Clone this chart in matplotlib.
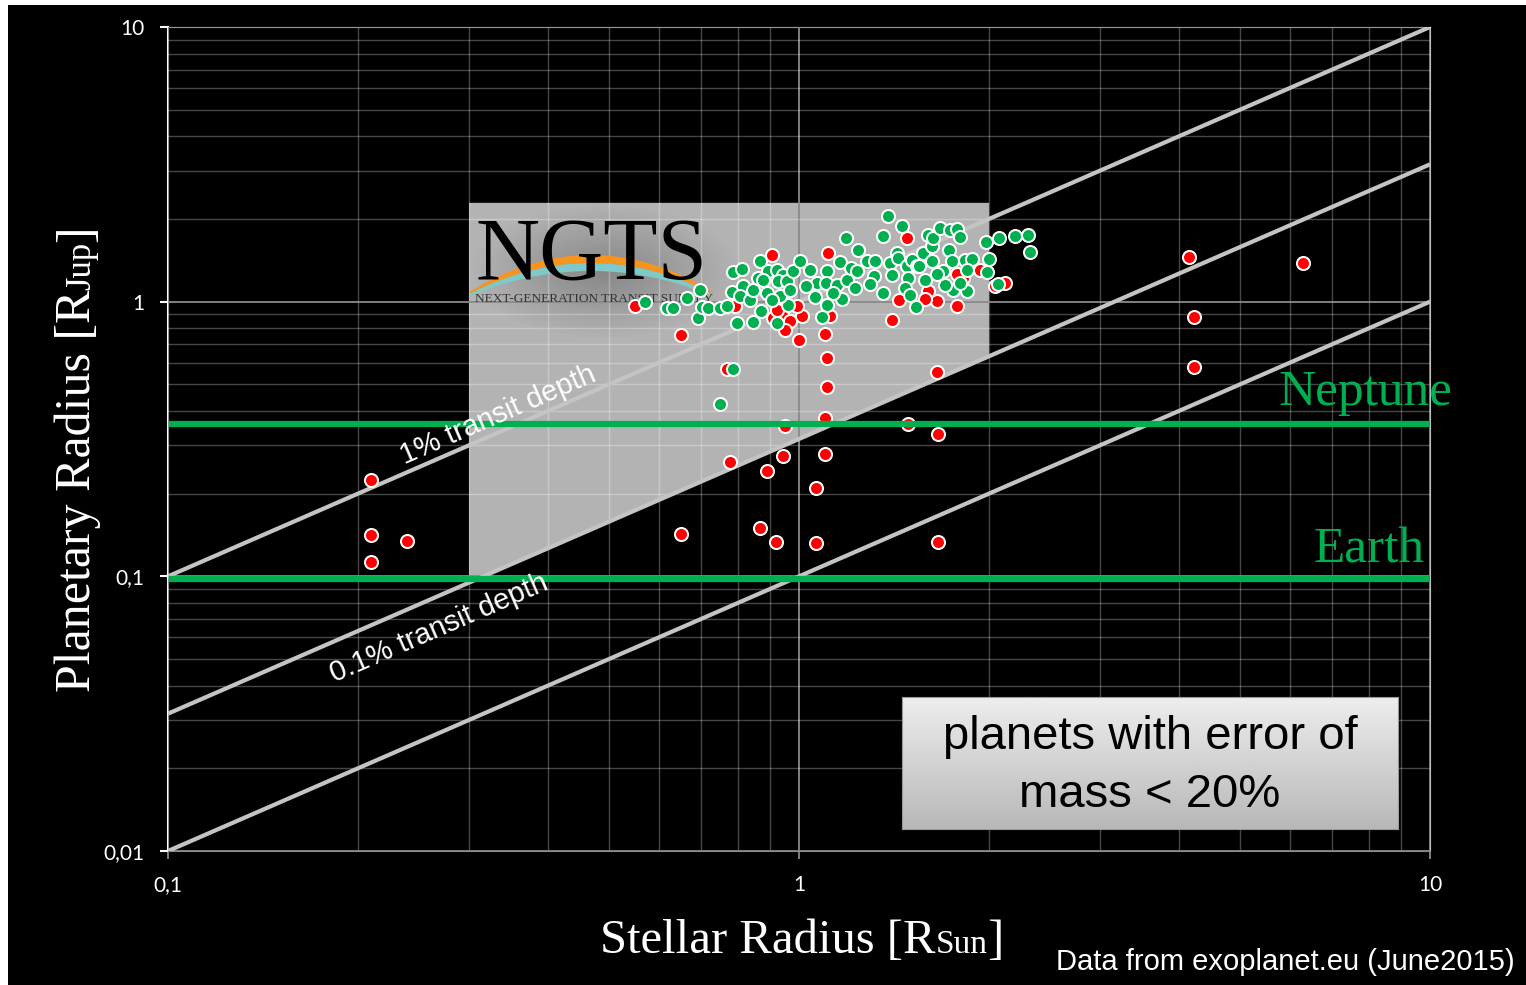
import numpy as np
import matplotlib
matplotlib.use("Agg")
import matplotlib.pyplot as plt
from matplotlib.patches import Polygon, Rectangle
from matplotlib.ticker import NullFormatter

W, H = 1526, 985

# exoplanet.eu (June 2015): stellar radius [R_sun] vs planetary radius [R_jup]
# planets with mass error < 20 %
good_rs = [0.570, 0.617, 0.632, 0.664, 0.697, 0.692, 0.701, 0.718, 0.750, 0.768,
           0.797, 0.846, 0.871, 0.922, 0.962, 0.787, 0.811, 0.782, 0.816, 0.806,
           0.836, 0.846, 0.868, 0.894, 0.922, 0.944, 0.862, 0.878, 0.927, 0.956,
           0.889, 0.933, 0.905, 0.977, 1.004, 1.041, 1.067, 1.106, 1.104, 1.060,
           1.106, 1.086, 1.170, 1.150, 1.190, 1.227, 1.161, 1.207, 1.234, 1.189,
           1.240, 1.316, 1.280, 1.319, 1.360, 1.360, 1.385, 1.457, 1.394, 1.428,
           1.437, 1.482, 1.509, 1.537, 1.403, 1.490, 1.472, 1.500, 1.532, 1.584,
           1.551, 1.574, 1.623, 1.603, 1.633, 1.673, 1.735, 1.777, 1.800, 1.623,
           1.693, 1.730, 1.746, 1.756, 1.848, 1.833, 1.878, 1.844, 1.984, 2.000,
           1.979, 2.077, 2.199, 2.309, 2.323, 2.069, 0.787, 0.750,
           0.968, 1.026, 1.132, 1.296, 1.654, 1.703, 1.800]
good_rp = [1.000, 0.951, 0.951, 1.034, 1.106, 0.871, 0.959, 0.949, 0.947, 0.961,
           0.835, 0.842, 0.922, 0.835, 0.975, 1.286, 1.313, 1.087, 1.139, 1.045,
           1.017, 1.106, 1.402, 1.289, 1.307, 1.254, 1.220, 1.202, 1.186, 1.186,
           1.076, 1.045, 1.017, 1.289, 1.402, 1.304, 1.170, 1.289, 1.170, 1.043,
           0.975, 0.882, 1.024, 1.153, 1.202, 1.120, 1.393, 1.326, 1.289, 1.703,
           1.546, 1.243, 1.402, 1.402, 1.078, 1.729, 2.051, 1.880, 1.383, 1.504,
           1.442, 1.344, 1.422, 1.344, 1.254, 1.220, 1.122, 1.060, 0.959, 1.202,
           1.344, 1.504, 1.590, 1.754, 1.705, 1.855, 1.829, 1.844, 1.714, 1.402,
           1.297, 1.537, 1.410, 1.106, 1.090, 1.422, 1.430, 1.307, 1.279, 1.430,
           1.644, 1.705, 1.739, 1.754, 1.511, 1.160, 0.568, 0.424,
           1.106, 1.144, 1.078, 1.163, 1.265, 1.153, 1.173]

# everything else
other_rs = [0.210, 0.210, 0.210, 0.239, 0.650, 0.651, 0.550, 1.000, 1.099, 1.106,
            0.768, 1.107, 1.654, 1.099, 0.949, 1.487, 1.659, 0.777, 0.889, 0.943,
            1.098, 1.064, 0.868, 0.919, 1.064, 1.659, 4.15, 6.29, 4.23, 4.23,
            0.905, 1.110, 1.402, 1.482, 1.438, 1.603, 1.653, 1.777, 1.821, 1.936,
            2.121, 0.792, 0.911, 0.939, 0.968, 0.950, 1.010, 0.992, 1.120, 0.922,
            1.777, 2.045, 1.584]
other_rp = [0.225, 0.141, 0.1125, 0.134, 0.143, 0.755, 0.961, 0.727, 0.765, 0.625,
            0.570, 0.489, 0.553, 0.377, 0.352, 0.359, 0.330, 0.261, 0.2425, 0.2734,
            0.280, 0.210, 0.1495, 0.133, 0.132, 0.133, 1.458, 1.387, 0.882, 0.580,
            1.483, 1.504, 0.855, 1.705, 1.017, 1.090, 1.007, 0.961, 1.216, 1.307,
            1.173, 0.967, 0.872, 0.897, 0.848, 0.791, 0.884, 0.961, 0.884, 0.935,
            1.265, 1.137, 1.023]

neptune_rp = 0.36
earth_rp = 0.098
depths = [0.01, 0.001, 0.0001]
depth_texts = ["1% transit depth", "0.1% transit depth"]
depth_text_pos = [(0.237, 0.256), (0.184, 0.0412)]

# NGTS sensitivity region
ngts_rs = [0.3, 2.0]
ngts_rp_top = 2.29
ngts_depth = 0.001

GREEN = "#00b050"
RED = "#ff0000"
SERIF = "Liberation Serif"
SANS = "Liberation Sans"


def ratio(depth):
    # R_jup ~ 0.1 R_sun
    return np.sqrt(depth) / 0.1


def fpx(x, y):
    return x / W, 1 - y / H


fig = plt.figure(figsize=(W / 100, H / 100), dpi=100)
fig.patch.set_facecolor("white")
fig.add_artist(Rectangle((8 / W, 0), 1, 1 - 5 / H, transform=fig.transFigure,
                         facecolor="black", edgecolor="none", zorder=-10))

ax = fig.add_axes([168 / W, 1 - 851 / H, (1430 - 168) / W, (851 - 27) / H])
ax.set_facecolor("black")
ax.set_xscale("log")
ax.set_yscale("log")
ax.set_xlim(0.1, 10)
ax.set_ylim(0.01, 10)

# grey box for the NGTS window
k = ratio(ngts_depth)
box = [(ngts_rs[0], ngts_rp_top), (ngts_rs[1], ngts_rp_top),
       (ngts_rs[1], k * ngts_rs[1]), (ngts_rs[0], k * ngts_rs[0])]
ax.add_patch(Polygon(box, closed=True, facecolor="#b3b3b3", edgecolor="none", zorder=1))

# darker shading behind the logo
gx, gy = np.meshgrid(np.linspace(-1, 1, 120), np.linspace(-1, 1, 80))
shade = np.zeros((80, 120, 4))
shade[..., 3] = 0.25 * np.clip(1 - np.sqrt(gx ** 2 + gy ** 2), 0, 1)
x0, y0 = fpx(468, 340)
x1, y1 = fpx(740, 203)
ax.imshow(shade, extent=[x0, x1, y0, y1], transform=fig.transFigure,
          aspect="auto", interpolation="bilinear", zorder=1.2)
ax.set_xlim(0.1, 10)
ax.set_ylim(0.01, 10)

# grid
ax.set_axisbelow(False)
ax.grid(True, which="minor", color="white", alpha=0.28, lw=1.0)
ax.grid(True, which="major", color="#8a8a8a", lw=1.3)

# lines of constant transit depth
xs = np.array([0.1, 10])
for d in depths:
    ax.plot(xs, ratio(d) * xs, color="#c4c4c4", lw=3, zorder=3, solid_capstyle="butt")

p1 = ax.transData.transform((0.1, 0.1))
p2 = ax.transData.transform((10, 10))
angle = np.degrees(np.arctan2(p2[1] - p1[1], p2[0] - p1[0]))
for txt, pos in zip(depth_texts, depth_text_pos):
    ax.text(pos[0], pos[1], txt, rotation=angle, rotation_mode="anchor",
            ha="left", va="baseline", fontsize=21, family=SANS, color="white", zorder=5)

# planets
ax.scatter(other_rs, other_rp, s=88, c=RED, edgecolors="white", linewidths=1.45, zorder=3.2)
ax.scatter(good_rs, good_rp, s=88, c=GREEN, edgecolors="white", linewidths=1.45, zorder=3.3)

# Neptune / Earth radii
for rp, name, off, xr in [(neptune_rp, "Neptune", 13, 1.0174), (earth_rp, "Earth", 11.5, 0.996)]:
    ax.axhline(rp, 0.003, 0.998, color=GREEN, lw=4.5, zorder=3.6)
    ax.annotate(name, xy=(xr, rp), xycoords=("axes fraction", "data"),
                xytext=(0, off), textcoords="offset points", ha="right", va="baseline",
                fontsize=37, family=SERIF, color=GREEN, annotation_clip=False, zorder=5)

# NGTS logo
lx = np.linspace(470, 712, 80)
top_o = 255 + 0.0025 * (lx - 591) ** 2
mid = 263 + 0.0021 * (lx - 591) ** 2
bot_t = 271 + 0.0017 * (lx - 591) ** 2
for upper, lower, col in [(top_o, mid, "#f7941d"), (mid, bot_t, "#7fc9c9")]:
    pts = [fpx(a, b) for a, b in zip(lx, upper)] + [fpx(a, b) for a, b in zip(lx[::-1], lower[::-1])]
    ax.add_patch(Polygon(pts, closed=True, facecolor=col, edgecolor="none",
                         transform=fig.transFigure, zorder=3.1))
ax.text(*fpx(475, 279), "NGTS", transform=fig.transFigure, fontsize=64, family=SERIF,
        color="black", ha="left", va="baseline", zorder=3.15)
ax.text(*fpx(475, 302), "NEXT-GENERATION TRANSIT SURVEY", transform=fig.transFigure,
        fontsize=9.6, family=SERIF, color="#333333", ha="left", va="baseline", zorder=3.15)

# ticks
ax.set_xticks([0.1, 1, 10])
ax.set_xticklabels(["0,1", "1", "10"])
ax.set_yticks([0.01, 0.1, 1, 10])
ax.set_yticklabels(["0,01", "0,1", "1", "10"])
ax.xaxis.set_minor_formatter(NullFormatter())
ax.yaxis.set_minor_formatter(NullFormatter())
ax.tick_params(which="minor", length=0)
ax.tick_params(axis="y", which="major", direction="out", length=6, width=1.5,
               color="white", labelcolor="white", labelsize=15, pad=11)
ax.tick_params(axis="x", which="major", direction="out", length=6, width=1.3,
               color="#8a8a8a", labelcolor="white", labelsize=15, pad=11)
for t in ax.get_xticklabels() + ax.get_yticklabels():
    t.set_fontfamily("Lato")

ax.spines["left"].set_color("white")
ax.spines["left"].set_linewidth(1.5)
ax.spines["top"].set_color("white")
ax.spines["right"].set_color("#bdbdbd")
ax.spines["bottom"].set_color("#8a8a8a")

# axis titles with smaller unit text
renderer = fig.canvas.get_renderer()


def title_parts(parts, x, y, rotation):
    for text, size in parts:
        t = fig.text(x, y, text, fontsize=size, family=SERIF, color="white",
                     rotation=rotation, rotation_mode="anchor", ha="left", va="baseline")
        bb = t.get_window_extent(renderer)
        if rotation == 0:
            x = bb.x1 / W
        else:
            y = bb.y1 / H


title_parts([("Stellar Radius [R", 35), ("Sun", 24), ("]", 35)], *fpx(600, 953), 0)
title_parts([("Planetary Radius [R", 36), ("Jup", 25), ("]", 36)], *fpx(90, 692), 90)

# note box
bax = fig.add_axes([902 / W, 1 - 829 / H, 496 / W, 132 / H])
grad = np.linspace(0.93, 0.72, 100)[:, None]
bax.imshow(grad, cmap="gray", vmin=0, vmax=1, aspect="auto", extent=[0, 1, 0, 1])
bax.set_xticks([])
bax.set_yticks([])
for s in bax.spines.values():
    s.set_color("#9a9a9a")
bax.text(0.5, 0.70, "planets with error of", ha="center", va="center",
         fontsize=34, family=SANS, color="black")
bax.text(0.5, 0.26, "mass < 20%", ha="center", va="center",
         fontsize=34, family=SANS, color="black")

fig.text(*fpx(1515, 970), "Data from exoplanet.eu (June2015)", ha="right", va="baseline",
         fontsize=21, family=SANS, color="white")

fig.savefig("out.png", dpi=100, facecolor=fig.get_facecolor())
